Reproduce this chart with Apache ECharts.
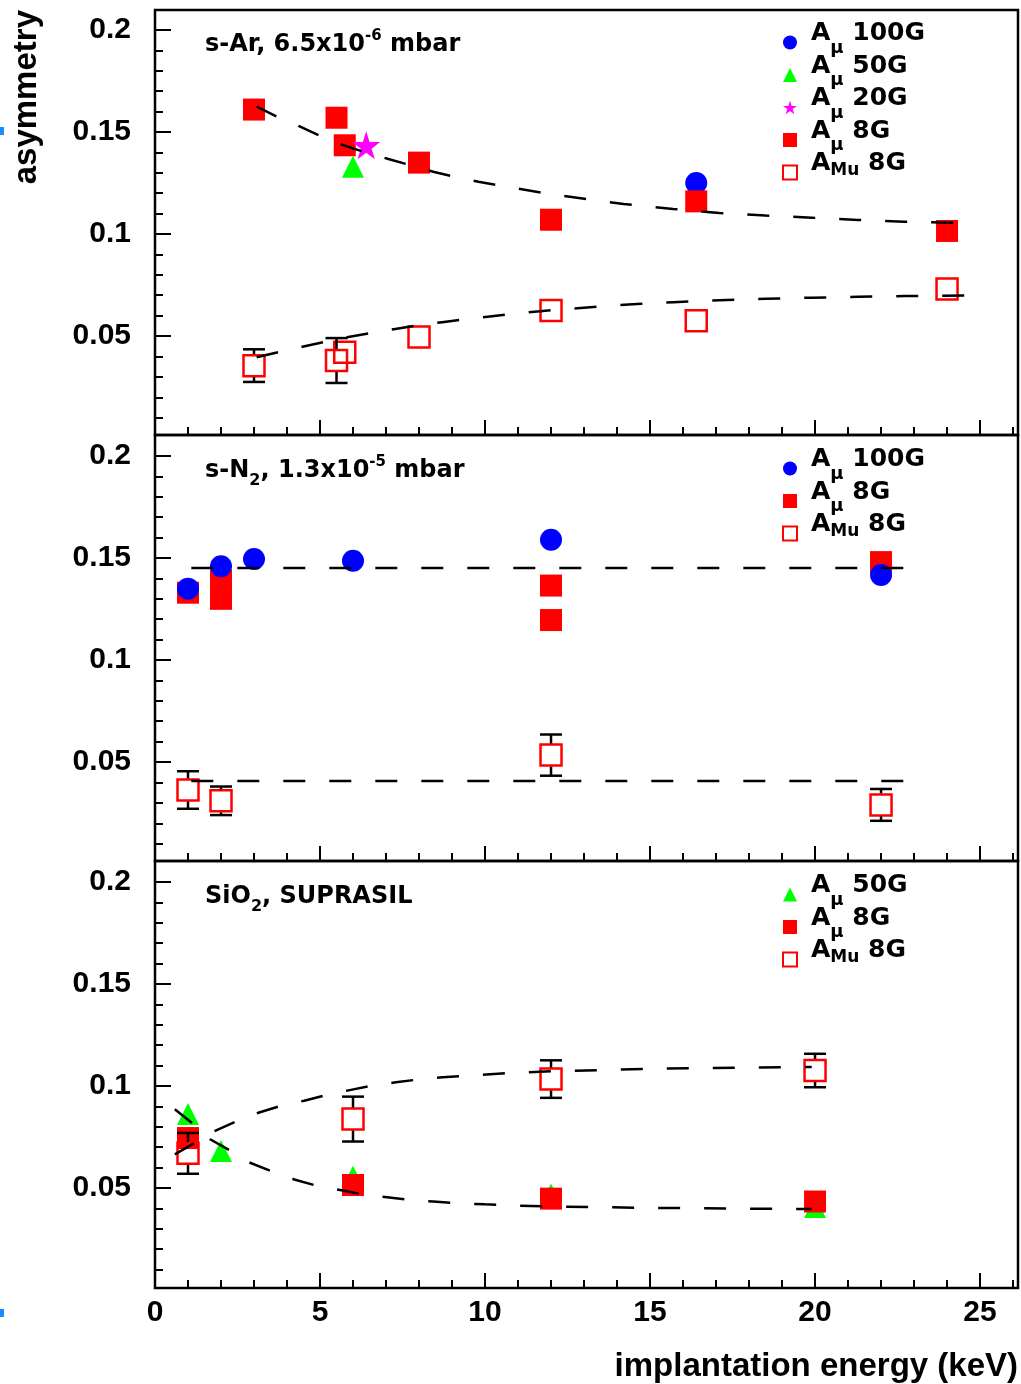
<!DOCTYPE html>
<html>
<head>
<meta charset="utf-8">
<script src="https://cdn.jsdelivr.net/npm/echarts@6/dist/echarts.min.js"></script>
<style>
html,body{margin:0;padding:0;background:#fff;}
#chart{width:1021px;height:1384px;}
</style>
</head>
<body>
<div id="chart"></div>
<script>
// ---------- tick values ----------
const xMajorTicks = [0, 5, 10, 15, 20, 25];
const xMinorTicks = [1, 2, 3, 4, 6, 7, 8, 9, 11, 12, 13, 14, 16, 17, 18, 19, 21, 22, 23, 24, 26];
const yMajorTicks = [0.05, 0.1, 0.15, 0.2];
const yMinorTicks = [0.01, 0.02, 0.03, 0.04, 0.06, 0.07, 0.08, 0.09, 0.11, 0.12, 0.13, 0.14, 0.16, 0.17, 0.18, 0.19];

// ---------- panel 1 : s-Ar ----------
const p1A100x = [16.4];
const p1A100y = [0.125];
const p1A50x = [6.0];
const p1A50y = [0.133];
const p1A20x = [6.4];
const p1A20y = [0.1435];
const p1A8x = [3, 5.5, 5.75, 8, 12, 16.4, 24];
const p1A8y = [0.161, 0.157, 0.1435, 0.135, 0.107, 0.116, 0.1015];
const p1Mu8x = [3, 5.5, 5.75, 8, 12, 16.4, 24];
const p1Mu8y = [0.0355, 0.038, 0.042, 0.0495, 0.0625, 0.0575, 0.073];
const p1Mu8err = [0.008, 0.011, 0.004, 0.004, 0.004, 0.004, 0.004];
const p1FitAx = [3.08, 3.73, 4.4, 5.06, 5.7, 6.43, 7.07, 7.83, 8.43, 9.1, 9.8, 12, 14.2, 15.7, 17.1, 18.5, 19.9, 21.3, 22.7, 24.9];
const p1FitAy = [0.1624, 0.1572, 0.1526, 0.1477, 0.1436, 0.1397, 0.1368, 0.1333, 0.1305, 0.128, 0.1256, 0.1195, 0.1147, 0.1123, 0.1103, 0.1091, 0.108, 0.1069, 0.106, 0.1053];
const p1FitMux = [3.08, 3.79, 4.5, 5.16, 5.86, 6.58, 7.28, 7.98, 8.7, 9.4, 10.08, 10.83, 11.5, 12.2, 12.9, 13.65, 14.6, 15.7, 17.1, 18.5, 19.9, 21.3, 22.7, 24.9];
const p1FitMuy = [0.0396, 0.0423, 0.0449, 0.0472, 0.0495, 0.0516, 0.0535, 0.0553, 0.0568, 0.0582, 0.0595, 0.0608, 0.0619, 0.0629, 0.0638, 0.0647, 0.0657, 0.0666, 0.0676, 0.0683, 0.0688, 0.0692, 0.0696, 0.0700];

// ---------- panel 2 : s-N2 ----------
const p2A100x = [1, 2, 3, 6, 12, 22];
const p2A100y = [0.135, 0.146, 0.1495, 0.1487, 0.159, 0.1417];
const p2A8x = [1, 2, 2, 12, 12, 22];
const p2A8y = [0.133, 0.139, 0.130, 0.1365, 0.1196, 0.148];
const p2Mu8x = [1, 2, 12, 22];
const p2Mu8y = [0.0363, 0.031, 0.0534, 0.029];
const p2Mu8err = [0.0092, 0.007, 0.0101, 0.0078];
const p2FitAx = [1.1, 22.9];
const p2FitAy = [0.1451, 0.1451];
const p2FitMux = [1.1, 22.9];
const p2FitMuy = [0.0407, 0.0407];

// ---------- panel 3 : SiO2 ----------
const p3A50x = [1, 2, 6, 12, 20];
const p3A50y = [0.0863, 0.0681, 0.0555, 0.0468, 0.0407];
const p3A8x = [1, 6, 12, 20];
const p3A8y = [0.0745, 0.0515, 0.0448, 0.0434];
const p3Mu8x = [1, 6, 12, 20];
const p3Mu8y = [0.067, 0.0838, 0.1034, 0.1076];
const p3Mu8err = [0.010, 0.011, 0.0092, 0.0082];
const p3FitAx = [0.6, 1.16, 1.67, 2.28, 2.88, 3.57, 4.22, 4.9, 5.61, 6.32, 7.03, 7.74, 8.43, 9.0, 10.0, 11.0, 12.0, 13.5, 15.0, 16.5, 18.0, 19.9];
const p3FitAy = [0.0886, 0.0814, 0.0739, 0.0683, 0.0624, 0.058, 0.0542, 0.0511, 0.049, 0.0468, 0.0455, 0.0442, 0.0434, 0.0427, 0.042, 0.0414, 0.041, 0.0406, 0.0403, 0.0401, 0.0399, 0.0397];
const p3FitMux = [0.6, 1.21, 1.82, 2.5, 3.13, 3.81, 4.52, 5.18, 5.9, 6.57, 7.3, 8.02, 8.72, 9.4, 10.5, 12.0, 13.5, 15.0, 16.5, 18.0, 19.9];
const p3FitMuy = [0.0665, 0.0722, 0.078, 0.083, 0.0869, 0.0903, 0.0928, 0.0955, 0.098, 0.1002, 0.1018, 0.1033, 0.1043, 0.105, 0.1062, 0.1072, 0.1078, 0.1084, 0.1088, 0.1091, 0.1093];

// ---------- text ----------
const panelTitles = [
  '{n|s-Ar, 6.5x10}{p|-6}{n| mbar}',
  '{n|s-N}{b|2}{n|, 1.3x10}{p|-5}{n| mbar}',
  '{n|SiO}{b|2}{n|, SUPRASIL}'
];
const legendNames = [
  ['Aμ 100G', 'Aμ 50G', 'Aμ 20G', 'Aμ 8G', 'AMu 8G'],
  ['Aμ 100G', 'Aμ 8G', 'AMu 8G'],
  ['Aμ 50G', 'Aμ 8G', 'AMu 8G']
];
const legendLabels = {
  'Aμ 100G': '{a|A}{m|μ}{t| 100G}',
  'Aμ 50G': '{a|A}{m|μ}{t| 50G}',
  'Aμ 20G': '{a|A}{m|μ}{t| 20G}',
  'Aμ 8G': '{a|A}{m|μ}{t| 8G}',
  'AMu 8G': '{a|A}{u|Mu}{t| 8G}'
};
const xTitle = 'implantation energy (keV)';
const yTitle = 'asymmetry';

// ---------- layout ----------
const grids = [
  {top: 10, height: 425, ymin: 0.0015, ymax: 0.2098, titleTop: 29, legendTop: 21},
  {top: 435, height: 426, ymin: 0.0015, ymax: 0.2103, titleTop: 452.5, legendTop: 447},
  {top: 861, height: 427, ymin: 0.0010, ymax: 0.2103, titleTop: 878.5, legendTop: 873}
];
const XMAX = 26.15;
const LAB_FONT = "'Liberation Sans', Arial, sans-serif";
const TXT_FONT = "'DejaVu Sans', sans-serif";

const STAR = 'path://M50,2 L61.8,38.2 L99.5,38.2 L69,60.6 L80.6,96.5 L50,74.3 L19.4,96.5 L31,60.6 L0.5,38.2 L38.2,38.2 Z';
const styles = {
  'Aμ 100G': {symbol: 'circle', size: 22, itemStyle: {color: '#0000ff', opacity: 1}},
  'Aμ 50G': {symbol: 'triangle', size: 22, itemStyle: {color: '#00ff00', opacity: 1}},
  'Aμ 20G': {symbol: STAR, size: 28, itemStyle: {color: '#ff00ff', opacity: 1}},
  'Aμ 8G': {symbol: 'rect', size: 22, itemStyle: {color: '#ff0000', opacity: 1}},
  'AMu 8G': {symbol: 'rect', size: 21, itemStyle: {color: 'rgba(255,255,255,0)', borderColor: '#ff0000', borderWidth: 2.5, opacity: 1}}
};

function zip(xs, ys, es) {
  return xs.map((x, i) => es ? [x, ys[i], es[i]] : [x, ys[i]]);
}

const gridOpts = [], xAxes = [], yAxes = [], titles = [], legends = [], series = [];

grids.forEach((g, i) => {
  gridOpts.push({left: 155, width: 863, top: g.top, height: g.height, show: true,
    borderColor: '#000', borderWidth: 2.5, backgroundColor: 'transparent'});
  const isLast = i === grids.length - 1;
  xAxes.push({type: 'value', gridIndex: i, min: 0, max: XMAX, position: 'bottom',
    axisLine: {show: false}, splitLine: {show: false},
    axisTick: {show: true, inside: true, length: 15, customValues: xMajorTicks, lineStyle: {color: '#000', width: 2}},
    axisLabel: {show: isLast, customValues: xMajorTicks, margin: 10, color: '#000',
      fontFamily: LAB_FONT, fontWeight: 'bold', fontSize: 30}});
  xAxes.push({type: 'value', gridIndex: i, min: 0, max: XMAX, position: 'bottom',
    axisLine: {show: false}, splitLine: {show: false}, axisLabel: {show: false},
    axisTick: {show: true, inside: true, length: 8, customValues: xMinorTicks, lineStyle: {color: '#000', width: 2}}});
  yAxes.push({type: 'value', gridIndex: i, min: g.ymin, max: g.ymax, position: 'left',
    axisLine: {show: false}, splitLine: {show: false},
    axisTick: {show: true, inside: true, length: 16, customValues: yMajorTicks, lineStyle: {color: '#000', width: 2}},
    axisLabel: {show: true, customValues: yMajorTicks, margin: 24, color: '#000',
      fontFamily: LAB_FONT, fontWeight: 'bold', fontSize: 30}});
  yAxes.push({type: 'value', gridIndex: i, min: g.ymin, max: g.ymax, position: 'left',
    axisLine: {show: false}, splitLine: {show: false}, axisLabel: {show: false},
    axisTick: {show: true, inside: true, length: 8, customValues: yMinorTicks, lineStyle: {color: '#000', width: 2}}});

  titles.push({left: 205, top: g.titleTop, padding: 0, text: panelTitles[i],
    textStyle: {rich: {
      n: {fontFamily: TXT_FONT, fontWeight: 'bold', fontSize: 24, color: '#000'},
      p: {fontFamily: TXT_FONT, fontWeight: 'bold', fontSize: 15, color: '#000', padding: [0, 0, 16, 0]},
      b: {fontFamily: TXT_FONT, fontWeight: 'bold', fontSize: 16, color: '#000', padding: [20, 0, 0, 0]}
    }}});

  legends.push({orient: 'vertical', left: 782, top: g.legendTop, padding: 0, itemGap: -3.5,
    itemWidth: 14, itemHeight: 14, selectedMode: false, data: legendNames[i],
    formatter: name => legendLabels[name],
    textStyle: {rich: {
      a: {fontFamily: TXT_FONT, fontWeight: 'bold', fontSize: 25, color: '#000', padding: [0, 0, 18, 9]},
      m: {fontFamily: TXT_FONT, fontWeight: 'bold', fontSize: 18, color: '#000', padding: [11, 0, 0, 0]},
      u: {fontFamily: TXT_FONT, fontWeight: 'bold', fontSize: 17, color: '#000', padding: [0, 0, 3, 0]},
      t: {fontFamily: TXT_FONT, fontWeight: 'bold', fontSize: 25, color: '#000', padding: [0, 0, 18, 0]}
    }}});
});

function scatter(name, gi, xs, ys) {
  const s = styles[name];
  return {type: 'scatter', name: name, xAxisIndex: 2 * gi, yAxisIndex: 2 * gi,
    symbol: s.symbol, symbolSize: s.size, itemStyle: s.itemStyle, z: 2,
    data: zip(xs, ys), silent: true};
}
function fitLine(gi, xs, ys) {
  return {type: 'line', name: 'fit', xAxisIndex: 2 * gi, yAxisIndex: 2 * gi,
    showSymbol: false, symbol: 'none', z: 3, silent: true,
    lineStyle: {color: '#000', width: 2.5, type: [22, 24]}, data: zip(xs, ys)};
}
function errBars(gi, xs, ys, es) {
  return {type: 'custom', name: 'err', xAxisIndex: 2 * gi, yAxisIndex: 2 * gi, z: 4, silent: true,
    data: zip(xs, ys, es),
    renderItem: function (params, api) {
      const x = api.value(0), y = api.value(1), e = api.value(2);
      const c = api.coord([x, y]);
      const t = api.coord([x, y + e])[1];
      const b = api.coord([x, y - e])[1];
      const h = 11.5, w = 11;
      const st = {stroke: '#000', lineWidth: 2.5};
      const ch = [];
      if (c[1] - t > h) {
        ch.push({type: 'line', shape: {x1: c[0], y1: t, x2: c[0], y2: c[1] - h}, style: st});
        ch.push({type: 'line', shape: {x1: c[0] - w, y1: t, x2: c[0] + w, y2: t}, style: st});
      }
      if (b - c[1] > h) {
        ch.push({type: 'line', shape: {x1: c[0], y1: c[1] + h, x2: c[0], y2: b}, style: st});
        ch.push({type: 'line', shape: {x1: c[0] - w, y1: b, x2: c[0] + w, y2: b}, style: st});
      }
      return {type: 'group', children: ch};
    }};
}

// panel 1
series.push(scatter('Aμ 100G', 0, p1A100x, p1A100y));
series.push(scatter('Aμ 8G', 0, p1A8x, p1A8y));
series.push(scatter('Aμ 50G', 0, p1A50x, p1A50y));
series.push(scatter('Aμ 20G', 0, p1A20x, p1A20y));
series.push(scatter('AMu 8G', 0, p1Mu8x, p1Mu8y));
series.push(fitLine(0, p1FitAx, p1FitAy));
series.push(fitLine(0, p1FitMux, p1FitMuy));
series.push(errBars(0, p1Mu8x, p1Mu8y, p1Mu8err));
// panel 2
series.push(scatter('Aμ 8G', 1, p2A8x, p2A8y));
series.push(scatter('Aμ 100G', 1, p2A100x, p2A100y));
series.push(scatter('AMu 8G', 1, p2Mu8x, p2Mu8y));
series.push(fitLine(1, p2FitAx, p2FitAy));
series.push(fitLine(1, p2FitMux, p2FitMuy));
series.push(errBars(1, p2Mu8x, p2Mu8y, p2Mu8err));
// panel 3
series.push(scatter('Aμ 50G', 2, p3A50x, p3A50y));
series.push(scatter('Aμ 8G', 2, p3A8x, p3A8y));
series.push(scatter('AMu 8G', 2, p3Mu8x, p3Mu8y));
series.push(fitLine(2, p3FitAx, p3FitAy));
series.push(fitLine(2, p3FitMux, p3FitMuy));
series.push(errBars(2, p3Mu8x, p3Mu8y, p3Mu8err));

const chart = echarts.init(document.getElementById('chart'), null, {renderer: 'canvas'});
chart.setOption({
  animation: false,
  backgroundColor: '#fff',
  grid: gridOpts,
  xAxis: xAxes,
  yAxis: yAxes,
  title: titles,
  legend: legends,
  series: series,
  graphic: [
    {type: 'text', x: 27, y: 10, rotation: Math.PI / 2,
      style: {text: yTitle, fill: '#000', font: "bold 33px 'Liberation Sans', Arial, sans-serif",
        textAlign: 'right', textVerticalAlign: 'middle'}},
    {type: 'text', x: 1018, y: 1367,
      style: {text: xTitle, fill: '#000', font: "bold 33px 'Liberation Sans', Arial, sans-serif",
        textAlign: 'right', textVerticalAlign: 'middle'}},
    {type: 'rect', shape: {x: 0, y: 127, width: 4, height: 8}, style: {fill: '#1a8cff'}},
    {type: 'rect', shape: {x: 0, y: 1309, width: 4, height: 8}, style: {fill: '#1a8cff'}}
  ]
});
</script>
</body>
</html>
